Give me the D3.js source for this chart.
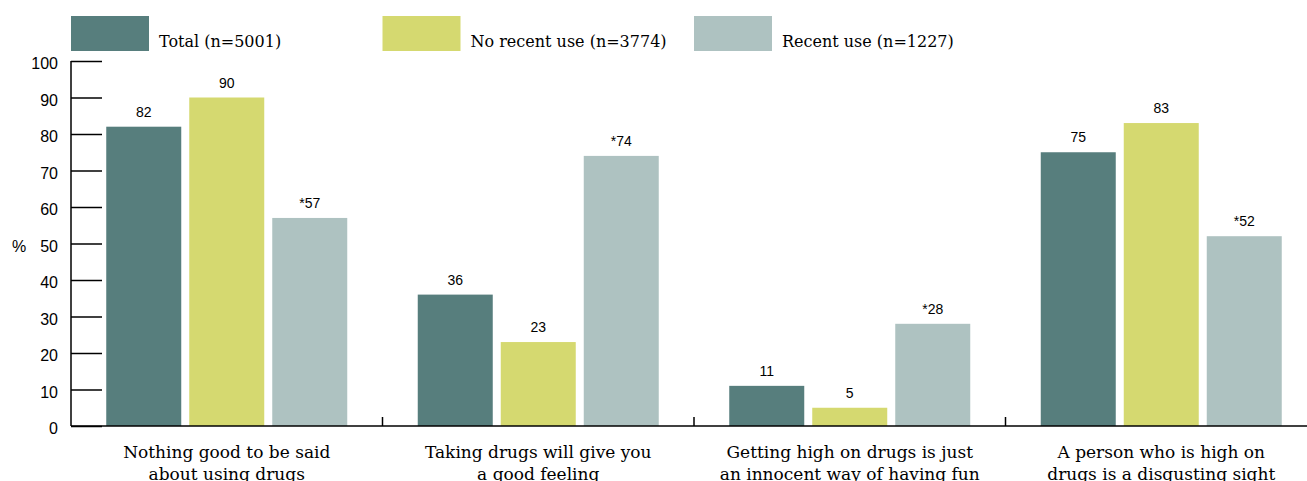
<!DOCTYPE html>
<html><head><meta charset="utf-8">
<script src="https://cdn.jsdelivr.net/npm/d3@7"></script>
<style>body{margin:0;background:#fff}svg{display:block}</style>
</head><body><svg id="c" width="1307" height="481"></svg>
<script>
const categories = [
  ["Nothing good to be said","about using drugs"],
  ["Taking drugs will give you","a good feeling"],
  ["Getting high on drugs is just","an innocent way of having fun"],
  ["A  person who is high on","drugs is a disgusting sight"]
];
const seriesNames = ["Total (n=5001)","No recent use (n=3774)","Recent use (n=1227)"];
const totalVals = [82,36,11,75];
const noRecentVals = [90,23,5,83];
const recentVals = [57,74,28,52];
const recentLabels = ["*57","*74","*28","*52"];
const yTicks = [0,10,20,30,40,50,60,70,80,90,100];
const colors = ["#577e7d","#d5d970","#aec2c1"];

const svg = d3.select("#c");
const serif = "'DejaVu Serif', serif";
const sans = "'Liberation Sans', Arial, sans-serif";
const catIdx = categories.map((d,i)=>i);
const x0 = d3.scaleBand().domain(catIdx).range([71, 1317]);
const x1 = d3.scaleBand().domain([0,1,2]).range([0, x0.bandwidth()]).paddingInner(0.0964).paddingOuter(0.4247);
const y = d3.scaleLinear().domain([0,100]).range([426, 61]);

const values = [totalVals, noRecentVals, recentVals];
const labels = [totalVals.map(String), noRecentVals.map(String), recentLabels];

// bars
const g = svg.append("g");
catIdx.forEach(ci=>{
  [0,1,2].forEach(si=>{
    const v = values[si][ci];
    g.append("rect").attr("x", x0(ci)+x1(si)).attr("width", x1.bandwidth())
      .attr("y", y(v)).attr("height", y(0)-y(v)).attr("fill", colors[si]);
    g.append("text").attr("x", x0(ci)+x1(si)+x1.bandwidth()/2).attr("y", y(v)-10)
      .attr("text-anchor","middle").attr("font-family", sans).attr("font-size", 14)
      .attr("fill","#000").text(labels[si][ci]);
  });
});

// y axis
const yAxis = d3.axisRight(y).tickValues(yTicks).tickSize(31).tickFormat("");
const ya = svg.append("g").attr("transform","translate(71,0)").call(yAxis);
ya.select(".domain").remove();
ya.selectAll(".tick line").attr("stroke","#000").attr("stroke-width",1.5);
svg.append("line").attr("x1",71).attr("x2",71).attr("y1",y(100)).attr("y2",y(0)).attr("stroke","#000").attr("stroke-width",1.5);
svg.selectAll(".ylab").data(yTicks).enter().append("text").attr("class","ylab")
  .attr("x",58).attr("y",d=>y(d)+8).attr("text-anchor","end")
  .attr("font-family", sans).attr("font-size",16).attr("fill","#000").text(d=>d);
svg.append("text").attr("x",19).attr("y",y(50)+8).attr("text-anchor","middle")
  .attr("font-family", sans).attr("font-size",16).attr("fill","#000").text("%");

// x axis baseline and category ticks
svg.append("line").attr("x1",71).attr("x2",1307).attr("y1",y(0)).attr("y2",y(0)).attr("stroke","#000").attr("stroke-width",1.5);
catIdx.slice(1).forEach(ci=>{
  svg.append("line").attr("x1",x0(ci)).attr("x2",x0(ci)).attr("y1",y(0)).attr("y2",y(0)-9).attr("stroke","#000").attr("stroke-width",1.5);
});
// category labels
catIdx.forEach(ci=>{
  const t = svg.append("text").attr("x", x0(ci)+x0.bandwidth()/2).attr("y",458)
    .attr("text-anchor","middle").attr("font-family", serif).attr("font-size",17).attr("fill","#000");
  categories[ci].forEach((line,li)=>{
    t.append("tspan").attr("x", x0(ci)+x0.bandwidth()/2).attr("dy", li===0?0:22).text(line);
  });
});

// legend
seriesNames.forEach((s,i)=>{
  const lx = x0(i);
  svg.append("rect").attr("x",lx).attr("y",16).attr("width",78).attr("height",35).attr("fill",colors[i]);
  svg.append("text").attr("x",lx+88).attr("y",47).attr("font-family", serif).attr("font-size",16)
    .attr("fill","#000").text(s);
});
</script></body></html>
